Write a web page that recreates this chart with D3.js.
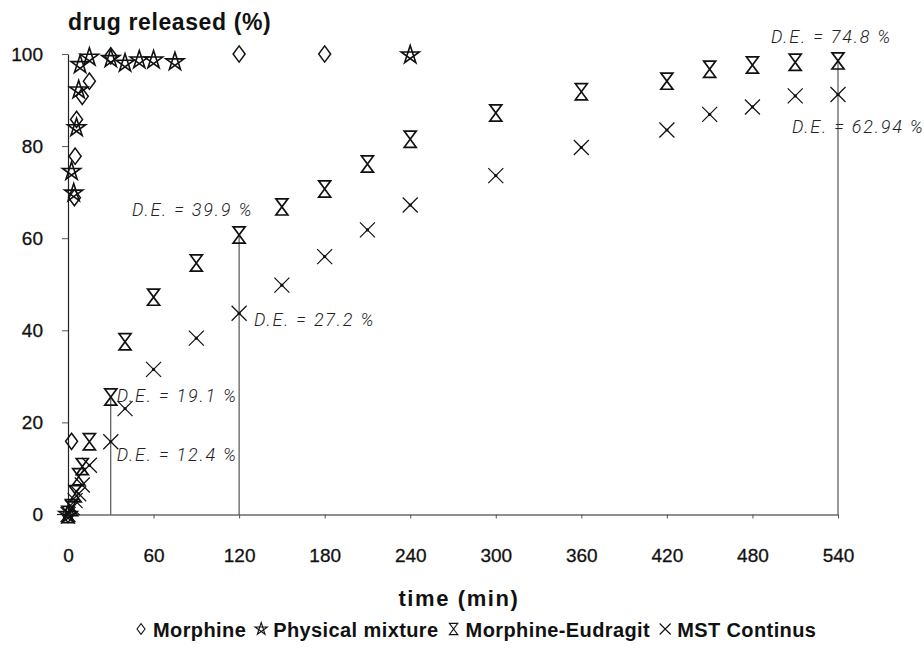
<!DOCTYPE html>
<html>
<head>
<meta charset="utf-8">
<title>Drug release</title>
<script src="https://d3js.org/d3.v7.min.js"></script>
<style>
  body { margin: 0; background: #fff; }
  svg { display: block; }
  .tick text { font-family: "Liberation Sans", Arial, sans-serif; font-size: 19px; fill: #111; stroke: #111; stroke-width: 0.3px; }
  .de { font-family: Roboto, "DejaVu Sans", sans-serif; font-weight: 300; font-style: italic; font-size: 18px; fill: #222; letter-spacing: 1.8px; }
  .ttl { font-family: "Liberation Sans", Arial, sans-serif; font-weight: bold; fill: #111; }
</style>
</head>
<body>
<div id="chart"></div>
<script>
// ---- data (time in min, % released) ----
var morphineT = [0, 2.5, 4.5, 5, 6, 10, 15, 30, 120, 180];
var morphineV = [0, 15.9, 68.8, 77.8, 85.8, 90.8, 94.1, 99.6, 100, 100];

var physT = [0, 2.5, 4, 6, 7.5, 8.5, 15, 30, 40, 50, 60, 75, 240];
var physV = [0, 74.5, 69.8, 84, 92.2, 97.7, 99.3, 99.0, 98.0, 98.7, 98.7, 98.3, 99.8];

var eudT = [0, 2.5, 5, 7.5, 10, 15, 30, 40, 60, 90, 120, 150, 180, 210, 240, 300, 360, 420, 450, 480, 510, 540];
var eudV = [0, 1.5, 4.5, 8.2, 10.4, 15.8, 25.5, 37.5, 47.2, 54.6, 60.7, 66.8, 70.7, 76.1, 81.5, 87.2, 91.8, 94.1, 96.7, 97.6, 98.2, 98.5];

var mstT = [0, 3, 5, 7.5, 10, 15, 30, 40, 60, 90, 120, 150, 180, 210, 240, 300, 360, 420, 450, 480, 510, 540];
var mstV = [0, 1.5, 3, 4.5, 6.4, 10.7, 15.8, 23, 31.5, 38.3, 43.7, 49.8, 56, 61.8, 67.2, 73.6, 79.7, 83.5, 86.9, 88.5, 90.9, 91.2];

var xTicks = [0, 60, 120, 180, 240, 300, 360, 420, 480, 540];
var yTicks = [0, 20, 40, 60, 80, 100];

var seriesNames = ["Morphine", "Physical mixture", "Morphine-Eudragit", "MST Continus"];

// dissolution efficiency labels: time, which series, text
var deTimes  = [30, 30, 120, 120, 540, 540];
var deSeries = ["mst", "eud", "mst", "eud", "eud", "mst"];
var deText   = ["D.E. = 12.4 %", "D.E. = 19.1 %", "D.E. = 27.2 %", "D.E. = 39.9 %", "D.E. = 74.8 %", "D.E. = 62.94 %"];
var dropTimes = [30, 120, 540];

// ---- setup ----
var W = 924, H = 648;
var svg = d3.select("#chart").append("svg").attr("width", W).attr("height", H);

var x = d3.scaleLinear().domain([0, 540]).range([68, 838]);
var y = d3.scaleLinear().domain([0, 100]).range([514.5, 54]);

// axes
var yAxis = d3.axisLeft(y).tickValues(yTicks).tickSize(6).tickSizeOuter(0).tickPadding(19);
var gy = svg.append("g").attr("transform", "translate(" + x(0) + ",0)").call(yAxis);
gy.select(".domain").attr("stroke", "#222").attr("stroke-width", 1.2);
gy.selectAll(".tick line").attr("stroke", "#555");

var xAxis = d3.axisBottom(x).tickValues(xTicks).tickSize(4).tickSizeOuter(0).tickPadding(30);
var gx = svg.append("g").attr("transform", "translate(0," + y(0) + ")").call(xAxis);
gx.select(".domain").attr("stroke", "#222").attr("stroke-width", 1.2);
gx.selectAll(".tick line").attr("stroke", "#555");
svg.append("line").attr("x1", 57).attr("x2", x(0)).attr("y1", y(0)).attr("y2", y(0))
  .attr("stroke", "#222").attr("stroke-width", 1.2);

// drop lines under Morphine-Eudragit points
dropTimes.forEach(function (t) {
  var v = eudV[eudT.indexOf(t)];
  svg.append("line")
    .attr("x1", x(t)).attr("x2", x(t))
    .attr("y1", y(0)).attr("y2", y(v))
    .attr("stroke", "#333").attr("stroke-width", 1);
});

// ---- marker shapes ----
function starPath(r) {
  var p = [];
  for (var k = 0; k < 5; k++) {
    var a = (-90 + 144 * k) * Math.PI / 180;
    p.push([r * Math.cos(a), r * Math.sin(a)]);
  }
  return "M" + p.map(function (d) { return d[0].toFixed(2) + "," + d[1].toFixed(2); }).join("L") + "Z";
}
function diamondPath(s) { return "M0," + (-s * 1.35) + "L" + s + ",0L0," + (s * 1.35) + "L" + (-s) + ",0Z"; }
function hourPath(s) { var h = s * 1.35; return "M" + (-s) + "," + (-h) + "H" + s + "L" + (-s) + "," + h + "H" + s + "Z"; }
function crossPath(s) { return "M" + (-s) + "," + (-s) + "L" + s + "," + s + "M" + (-s) + "," + s + "L" + s + "," + (-s); }

var shapes = [
  { t: morphineT, v: morphineV, d: diamondPath(6), w: 1.5, dot: false },
  { t: physT, v: physV, d: starPath(9.5), w: 1.6, dot: false },
  { t: eudT, v: eudV, d: hourPath(6), w: 1.7, dot: false },
  { t: mstT, v: mstV, d: crossPath(7.5), w: 1.2, dot: true }
];

shapes.forEach(function (s) {
  var pts = s.t.map(function (t, i) { return [t, s.v[i]]; });
  var g = svg.append("g");
  g.selectAll("path")
    .data(pts).enter().append("path")
    .attr("d", s.d)
    .attr("transform", function (d) { return "translate(" + x(d[0]) + "," + y(d[1]) + ")"; })
    .attr("fill", "none").attr("stroke", "#111").attr("stroke-width", s.w)
    .attr("stroke-linejoin", "miter");
  if (s.dot) {
    g.selectAll("circle")
      .data(pts).enter().append("circle")
      .attr("cx", function (d) { return x(d[0]); })
      .attr("cy", function (d) { return y(d[1]); })
      .attr("r", 1.6).attr("fill", "#111");
  }
});

// ---- D.E. annotations ----
var deOffsets = [[6, 19], [6, 5], [15, 13], [14, -18.5], [-67, -18], [-46, 38]];
var deAnchor = ["start", "start", "start", "end", "start", "start"];
deText.forEach(function (txt, i) {
  var ser = deSeries[i] == "eud" ? [eudT, eudV] : [mstT, mstV];
  var v = ser[1][ser[0].indexOf(deTimes[i])];
  svg.append("text").attr("class", "de")
    .attr("x", x(deTimes[i]) + deOffsets[i][0])
    .attr("y", y(v) + deOffsets[i][1])
    .attr("text-anchor", deAnchor[i])
    .text(txt);
});

// ---- titles ----
svg.append("text").attr("class", "ttl")
  .attr("x", 68).attr("y", 30)
  .style("font-size", "23px").style("letter-spacing", "0.6px")
  .text("drug released (%)");

svg.append("text").attr("class", "ttl")
  .attr("x", 459).attr("y", 606).attr("text-anchor", "middle")
  .style("font-size", "22px").style("letter-spacing", "1.6px")
  .text("time (min)");

// ---- legend ----
var legend = svg.append("g").attr("transform", "translate(0,633)");
var legShapes = [diamondPath(4), starPath(6.5), hourPath(4.2), crossPath(5.5)];
var lx = 141;
seriesNames.forEach(function (name, i) {
  legend.append("path").attr("d", legShapes[i])
    .attr("transform", "translate(" + lx + ",-4)")
    .attr("fill", "none").attr("stroke", "#111").attr("stroke-width", 1.1);
  var t = legend.append("text").attr("class", "ttl")
    .attr("x", lx + 12).attr("y", 4)
    .style("font-size", "20px").style("letter-spacing", "0.4px")
    .text(name);
  lx += 12 + t.node().getComputedTextLength() + 15;
});
</script>
</body>
</html>
